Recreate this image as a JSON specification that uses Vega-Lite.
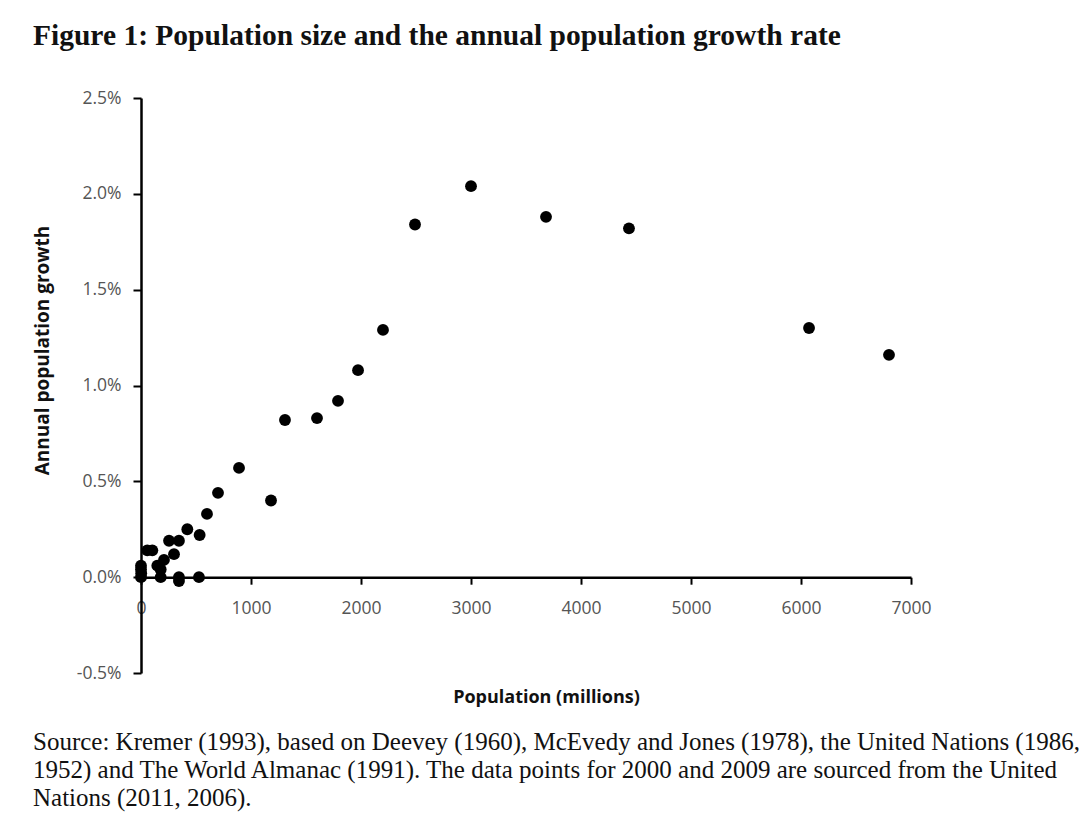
{
  "$schema": "https://vega.github.io/schema/vega-lite/v6.json",
  "background": "white",
  "padding": {"left": 33, "top": 20, "right": 5, "bottom": 2},
  "title": {
    "text": "Figure 1: Population size and the annual population growth rate",
    "font": "Liberation Serif",
    "fontSize": 29.5,
    "fontWeight": "bold",
    "anchor": "start",
    "color": "#111111",
    "offset": 38
  },
  "vconcat": [
    {
      "width": 770,
      "height": 575,
      "title": {
        "text": [
          "Source: Kremer (1993), based on Deevey (1960), McEvedy and Jones (1978), the United Nations (1986,",
          "1952) and The World Almanac (1991). The data points for 2000 and 2009 are sourced from the United",
          "Nations (2011, 2006)."
        ],
        "orient": "bottom",
        "anchor": "start",
        "font": "Liberation Serif",
        "fontSize": 25,
        "fontWeight": "normal",
        "lineHeight": 28,
        "color": "#111111",
        "offset": 24
      },
      "data": {
        "values": [
          {"pop": 0, "growth": 0.0000},
          {"pop": 0, "growth": 0.0004},
          {"pop": 0, "growth": 0.0006},
          {"pop": 2, "growth": 0.0002},
          {"pop": 57, "growth": 0.0014},
          {"pop": 103, "growth": 0.0014},
          {"pop": 148, "growth": 0.0006},
          {"pop": 179, "growth": 0.0004},
          {"pop": 179, "growth": 0.0000},
          {"pop": 209, "growth": 0.0009},
          {"pop": 255, "growth": 0.0019},
          {"pop": 300, "growth": 0.0012},
          {"pop": 345, "growth": 0.0019},
          {"pop": 345, "growth": 0.0000},
          {"pop": 345, "growth": -0.0002},
          {"pop": 421, "growth": 0.0025},
          {"pop": 527, "growth": 0.0000},
          {"pop": 533, "growth": 0.0022},
          {"pop": 600, "growth": 0.0033},
          {"pop": 700, "growth": 0.0044},
          {"pop": 891, "growth": 0.0057},
          {"pop": 1182, "growth": 0.0040},
          {"pop": 1309, "growth": 0.0082},
          {"pop": 1600, "growth": 0.0083},
          {"pop": 1791, "growth": 0.0092},
          {"pop": 1973, "growth": 0.0108},
          {"pop": 2200, "growth": 0.0129},
          {"pop": 2491, "growth": 0.0184},
          {"pop": 3000, "growth": 0.0204},
          {"pop": 3682, "growth": 0.0188},
          {"pop": 4436, "growth": 0.0182},
          {"pop": 6073, "growth": 0.0130},
          {"pop": 6800, "growth": 0.0116}
        ]
      },
      "mark": {"type": "circle", "size": 140, "color": "black", "opacity": 1},
      "encoding": {
        "x": {
          "field": "pop",
          "type": "quantitative",
          "title": "Population (millions)",
          "scale": {"domain": [0, 7000], "nice": false, "zero": false},
          "axis": {
            "values": [0, 1000, 2000, 3000, 4000, 5000, 6000, 7000],
            "format": "d",
            "offset": -95.8,
            "tickSize": 7,
            "labelPadding": 15,
            "labelFlush": false,
            "titleX": 405,
            "titleY": 120,
            "titleAlign": "center",
            "titleBaseline": "middle"
          }
        },
        "y": {
          "field": "growth",
          "type": "quantitative",
          "title": "Annual population growth",
          "scale": {"domain": [-0.005, 0.025], "nice": false, "zero": false},
          "axis": {
            "values": [-0.005, 0, 0.005, 0.01, 0.015, 0.02, 0.025],
            "format": ".1%",
            "labelExpr": "replace(datum.label, '−', '-')",
            "tickSize": 8,
            "labelPadding": 12,
            "titleX": -99,
            "titleY": 252,
            "titleAngle": 270,
            "titleAlign": "center",
            "titleBaseline": "middle"
          }
        }
      }
    }
  ],
  "config": {
    "view": {"stroke": null},
    "axis": {
      "grid": false,
      "domainColor": "black",
      "domainWidth": 2.5,
      "tickColor": "black",
      "tickWidth": 2,
      "labelFont": "Open Sans",
      "labelFontSize": 17.5,
      "labelColor": "#555555",
      "titleFont": "Open Sans",
      "titleFontWeight": "bold",
      "titleFontSize": 18,
      "titleColor": "#111111"
    },
    "axisY": {"titleFontSize": 19}
  }
}
